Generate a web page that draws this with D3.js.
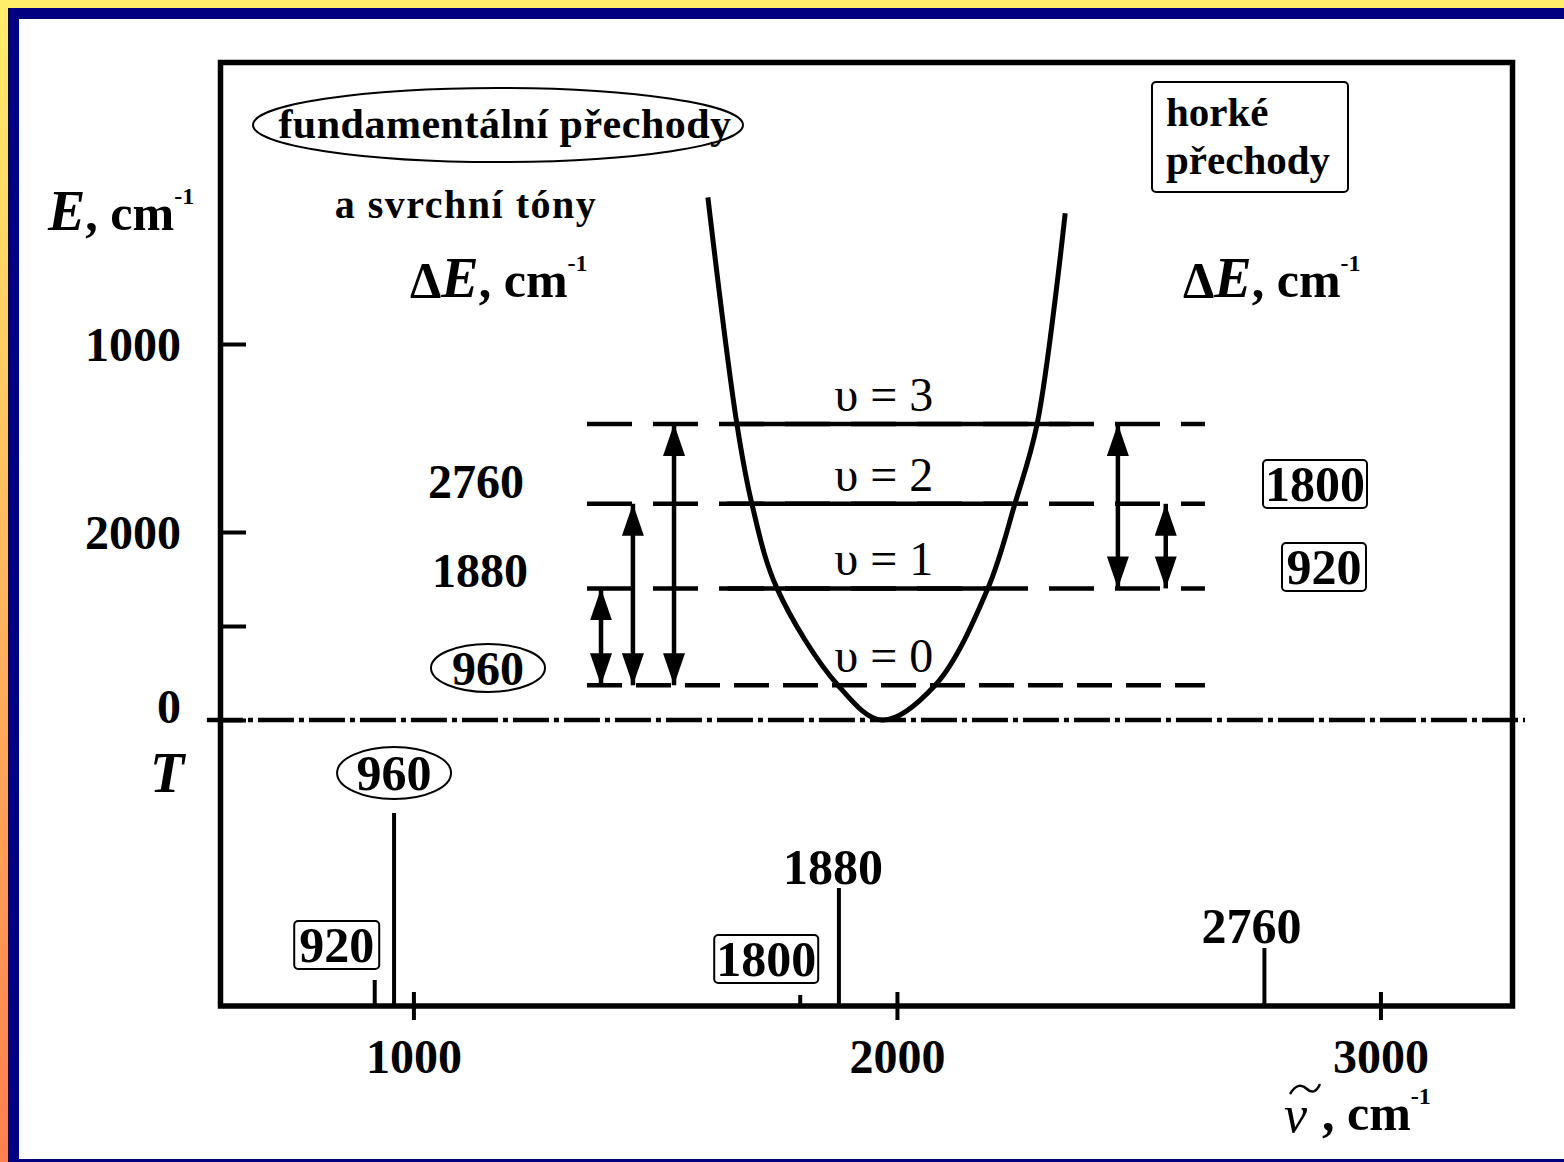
<!DOCTYPE html>
<html>
<head>
<meta charset="utf-8">
<script src="https://cdn.jsdelivr.net/npm/d3@7"></script>
<style>
body { margin: 0; background: #000080; overflow: hidden; }
text { font-family: "Liberation Serif", "Times New Roman", serif; font-weight: bold; fill: #000; }
</style>
</head>
<body>
<svg id="chart"></svg>
<script>
// vibrational levels (energy)
var levelNames = ["υ = 0", "υ = 1", "υ = 2", "υ = 3"];
var levelEnergy = [370, 1400, 2300, 3150];
var levelSolidFrom = [null, 1650, 1648, 1671];
var levelSolidTo = [null, 2188, 2238, 2358];

// potential curve (x in the same units as the wavenumber axis)
var curveLeft = [[1609, 5560], [1669, 3150], [1700, 2300], [1752, 1400], [1878, 370], [1969, 0]];
var curveRight = [[2079, 370], [2188, 1400], [2244, 2300], [2290, 3150], [2348, 5390]];

// transitions
var fundArrowX = [1388, 1454, 1539];
var fundFrom = [0, 0, 0];
var fundTo = [1, 2, 3];
var hotArrowX = [2457, 2556];
var hotFrom = [1, 1];
var hotTo = [3, 2];

// spectrum
var peakWavenumber = [920, 960, 1800, 1880, 2760];
var peakIntensity = [0.13, 0.965, 0.055, 0.59, 0.29];

var xTicks = [1000, 2000, 3000];
var eTicks = [0, 1000, 2000, 4000];
var eTickLabels = ["0", "", "2000", "1000"];

var W = 1564, H = 1162;
var svg = d3.select("#chart").attr("width", W).attr("height", H);

// border
var defs = svg.append("defs");
var grad = defs.append("linearGradient").attr("id", "edge").attr("x1", 0).attr("y1", 0).attr("x2", 0).attr("y2", 1);
grad.append("stop").attr("offset", "0%").attr("stop-color", "#ffee6a");
grad.append("stop").attr("offset", "100%").attr("stop-color", "#ff7f50");
svg.append("rect").attr("width", W).attr("height", H).attr("fill", "#000080");
svg.append("rect").attr("width", W).attr("height", 8).attr("fill", "#ffee6a");
svg.append("rect").attr("width", 8).attr("height", H).attr("fill", "url(#edge)");
svg.append("rect").attr("x", 19).attr("y", 19).attr("width", W - 19).attr("height", 1140).attr("fill", "#fff");

var x = d3.scaleLinear().domain([600, 3270]).range([220, 1511]);
var yE = d3.scaleLinear().domain([0, 4000]).range([720, 344]);
var yI = d3.scaleLinear().domain([0, 1]).range([1006, 806]);

// arrow head
defs.append("marker").attr("id", "head")
  .attr("viewBox", "0 0 32 22").attr("refX", 32).attr("refY", 11)
  .attr("markerWidth", 32).attr("markerHeight", 22)
  .attr("markerUnits", "userSpaceOnUse").attr("orient", "auto-start-reverse")
  .append("path").attr("d", "M0,0 L32,11 L0,22 Z").attr("fill", "#000");

// frame
svg.append("rect").attr("x", 220.5).attr("y", 62.5).attr("width", 1292).attr("height", 943.5)
  .attr("fill", "none").attr("stroke", "#000").attr("stroke-width", 5.5);

// E axis
var eAxis = svg.append("g").attr("transform", "translate(220,0)")
  .call(d3.axisLeft(yE).tickValues(eTicks).tickSize(-26).tickPadding(39)
    .tickFormat(function (d, i) { return eTickLabels[i]; }));
eAxis.select(".domain").remove();
eAxis.selectAll("line").attr("stroke", "#000").attr("stroke-width", 4);
eAxis.selectAll("text").style("font-size", "48px").style("font-family", "'Liberation Serif', serif")
  .style("font-weight", "bold").attr("dy", function (d) { return d === 0 ? "0.05em" : "0.34em"; });

// wavenumber axis
var xAxis = svg.append("g").attr("transform", "translate(0,1006)")
  .call(d3.axisBottom(x).tickValues(xTicks).tickSize(14).tickPadding(19).tickFormat(d3.format("d")));
xAxis.select(".domain").remove();
xAxis.selectAll("line").attr("stroke", "#000").attr("stroke-width", 4).attr("y1", -14);
xAxis.selectAll("text").style("font-size", "48px").style("font-family", "'Liberation Serif', serif")
  .style("font-weight", "bold");

// zero line
svg.append("line").attr("x1", x(573)).attr("x2", x(3299)).attr("y1", yE(0)).attr("y2", yE(0))
  .attr("stroke", "#000").attr("stroke-width", 4.5).attr("stroke-dasharray", "36,5,5,5");

// levels
var lv = svg.append("g");
lv.selectAll("line.dash").data(levelEnergy).enter().append("line")
  .attr("x1", x(1359)).attr("x2", x(2637))
  .attr("y1", function (d) { return yE(d); }).attr("y2", function (d) { return yE(d); })
  .attr("stroke", "#000").attr("stroke-width", 4.5)
  .attr("stroke-dasharray", function (d, i) { return i === 0 ? "35,14" : "45,21"; });
lv.selectAll("line.solid").data(levelEnergy.slice(1)).enter().append("line")
  .attr("x1", function (d, i) { return x(levelSolidFrom[i + 1]); })
  .attr("x2", function (d, i) { return x(levelSolidTo[i + 1]); })
  .attr("y1", function (d) { return yE(d); }).attr("y2", function (d) { return yE(d); })
  .attr("stroke", "#000").attr("stroke-width", 4.5);
lv.selectAll("text").data(levelEnergy).enter().append("text")
  .attr("x", x(1973)).attr("y", function (d) { return yE(d) - 13; })
  .attr("text-anchor", "middle").style("font-size", "48px").style("font-weight", "normal")
  .text(function (d, i) { return levelNames[i]; });

// potential curve
var line = d3.line().x(function (d) { return x(d[0]); }).y(function (d) { return yE(d[1]); })
  .curve(d3.curveCatmullRom.alpha(0.5));
svg.append("path").datum(curveLeft.concat(curveRight)).attr("d", line)
  .attr("fill", "none").attr("stroke", "#000").attr("stroke-width", 5);

// transition arrows
function arrows(xs, from, to) {
  svg.append("g").selectAll("line").data(xs).enter().append("line")
    .attr("x1", function (d) { return x(d); }).attr("x2", function (d) { return x(d); })
    .attr("y1", function (d, i) { return yE(levelEnergy[from[i]]); })
    .attr("y2", function (d, i) { return yE(levelEnergy[to[i]]); })
    .attr("stroke", "#000").attr("stroke-width", 4.5)
    .attr("marker-start", "url(#head)").attr("marker-end", "url(#head)");
}
arrows(fundArrowX, fundFrom, fundTo);
arrows(hotArrowX, hotFrom, hotTo);

// spectrum lines
svg.append("g").selectAll("line").data(peakWavenumber).enter().append("line")
  .attr("x1", function (d) { return x(d); }).attr("x2", function (d) { return x(d); })
  .attr("y1", yI(0)).attr("y2", function (d, i) { return yI(peakIntensity[i]); })
  .attr("stroke", "#000").attr("stroke-width", 4);

// helpers for labels
function label(tx, ty, str, size) {
  return svg.append("text").attr("x", tx).attr("y", ty).attr("text-anchor", "middle")
    .style("font-size", (size || 48) + "px").text(str);
}
function boxed(cx, cy, w, h, str) {
  svg.append("rect").attr("x", cx - w / 2).attr("y", cy - h / 2).attr("width", w).attr("height", h)
    .attr("rx", 4).attr("fill", "#fff").attr("stroke", "#000").attr("stroke-width", 2);
  label(cx, cy + 17, str, 50);
}
function ringed(cx, cy, rx, ry, str, size) {
  svg.append("ellipse").attr("cx", cx).attr("cy", cy).attr("rx", rx).attr("ry", ry)
    .attr("fill", "#fff").attr("stroke", "#000").attr("stroke-width", 2);
  label(cx, cy + 17, str, size || 50);
}

// spectrum labels
boxed(x(920) - 38, 945, 85, 48, "920");
ringed(x(960), 773, 57, 26, "960");
boxed(x(1800) - 34, 959, 104, 48, "1800");
label(x(1880) - 6, 884, "1880", 50);
label(x(2760) - 13, 943, "2760", 50);

// left transition labels
label(476, 498, "2760", 48);
label(480, 587, "1880", 48);
ringed(488, 668, 57, 24, "960", 48);

// right transition labels
boxed(1315, 484, 104, 48, "1800");
boxed(1324, 567, 84, 48, "920");

// headings
svg.append("ellipse").attr("cx", 498).attr("cy", 125).attr("rx", 245).attr("ry", 37)
  .attr("fill", "none").attr("stroke", "#000").attr("stroke-width", 2);
label(505, 138, "fundamentální přechody", 42).style("letter-spacing", "0.5px");
label(466, 218, "a svrchní tóny", 40).style("letter-spacing", "1.5px");

svg.append("rect").attr("x", 1152).attr("y", 82).attr("width", 196).attr("height", 110).attr("rx", 4)
  .attr("fill", "none").attr("stroke", "#000").attr("stroke-width", 2);
svg.append("text").attr("x", 1166).attr("y", 126).style("font-size", "41px").text("horké");
svg.append("text").attr("x", 1166).attr("y", 174).style("font-size", "41px").text("přechody");

function unitLabel(tx, ty, parts) {
  var t = svg.append("text").attr("x", tx).attr("y", ty).style("font-size", "50px");
  parts.forEach(function (p) {
    var s = t.append("tspan").text(p.s);
    if (p.i) s.style("font-style", "italic").style("font-size", (p.fs || 56) + "px");
    if (p.up) s.attr("dy", -26).style("font-size", "24px");
  });
  return t;
}
unitLabel(48, 230, [{ s: "E", i: true }, { s: ", cm" }, { s: "-1", up: true }]);
unitLabel(410, 297, [{ s: "Δ" }, { s: "E", i: true }, { s: ", cm" }, { s: "-1", up: true }]);
unitLabel(1183, 297, [{ s: "Δ" }, { s: "E", i: true }, { s: ", cm" }, { s: "-1", up: true }]);

svg.append("text").attr("x", 150).attr("y", 792).style("font-size", "56px").style("font-style", "italic").text("T");

// wavenumber unit: italic nu with a tilde stroke above
svg.append("text").attr("x", 1284).attr("y", 1132).style("font-size", "52px").style("font-style", "italic")
  .style("font-weight", "normal").text("ν");
svg.append("path").attr("d", "M1290,1094 C1296,1084 1302,1084 1307,1089 C1311,1093 1316,1093 1320,1084")
  .attr("fill", "none").attr("stroke", "#000").attr("stroke-width", 2.5);
unitLabel(1322, 1130, [{ s: ", cm" }, { s: "-1", up: true }]);
</script>
</body>
</html>
